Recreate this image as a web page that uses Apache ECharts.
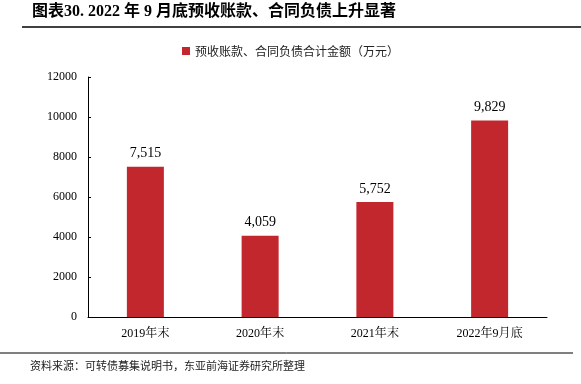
<!DOCTYPE html>
<html><head><meta charset="utf-8">
<script src="https://cdn.jsdelivr.net/npm/echarts@6/dist/echarts.min.js"></script>
<style>html,body{margin:0;padding:0;background:#fff}#c{width:581px;height:384px}</style>
</head><body><div id="c"></div>
<script>
const categories = ['2019年末', '2020年末', '2021年末', '2022年9月底'];
const values = [7515, 4059, 5752, 9829];
const seriesName = '预收账款、合同负债合计金额（万元）';
const yTicks = { min: 0, max: 12000, interval: 2000 };
const titleText = '图表30. 2022 年 9 月底预收账款、合同负债上升显著';
const sourceText = '资料来源：可转债募集说明书，东亚前海证券研究所整理';

const serif = '"Liberation Serif", "Noto Serif CJK SC", "Noto Sans CJK SC", serif';
const chart = echarts.init(document.getElementById('c'), null, {renderer: 'canvas'});
chart.setOption({
  animation: false,
  backgroundColor: '#fff',
  graphic: [
    {type: 'text', left: 32, top: 4, style: {text: titleText, font: 'bold 16px "Liberation Serif", "Noto Sans CJK SC"', fill: '#000'}},
    {type: 'line', shape: {x1: 22, y1: 27, x2: 581, y2: 27}, style: {stroke: '#000', lineWidth: 1.5}},
    {type: 'line', shape: {x1: 0, y1: 353, x2: 573, y2: 353}, style: {stroke: '#000', lineWidth: 1}},
    {type: 'text', left: 30, top: 360, style: {text: sourceText, font: '11px "Noto Sans CJK SC"', fill: '#222'}}
  ],
  legend: {
    top: 40, left: 'center', itemWidth: 8, itemHeight: 8, itemGap: 5,
    textStyle: {fontSize: 12, color: '#222', fontFamily: '"Noto Sans CJK SC"'},
    data: [{name: seriesName, icon: 'rect'}]
  },
  grid: {left: 88, right: 34, top: 77, bottom: 67},
  xAxis: {
    type: 'category', data: categories,
    axisLine: {lineStyle: {color: '#000', width: 1}},
    axisTick: {show: false},
    axisLabel: {color: '#000', fontSize: 12, fontFamily: serif, margin: 11}
  },
  yAxis: {
    type: 'value', min: yTicks.min, max: yTicks.max, interval: yTicks.interval,
    splitLine: {show: false},
    axisLine: {show: true, lineStyle: {color: '#000', width: 1}},
    axisTick: {show: true, inside: true, length: 3, lineStyle: {color: '#000'}},
    axisLabel: {color: '#000', fontSize: 12, fontFamily: serif, margin: 11, formatter: v => String(v)}
  },
  series: [{
    name: seriesName, type: 'bar', data: values, barWidth: 37,
    itemStyle: {color: '#C1272D'},
    label: {show: true, position: 'top', distance: 6, color: '#000', fontSize: 14, fontFamily: serif,
      formatter: p => p.value.toLocaleString('en-US')}
  }]
});
</script></body></html>
